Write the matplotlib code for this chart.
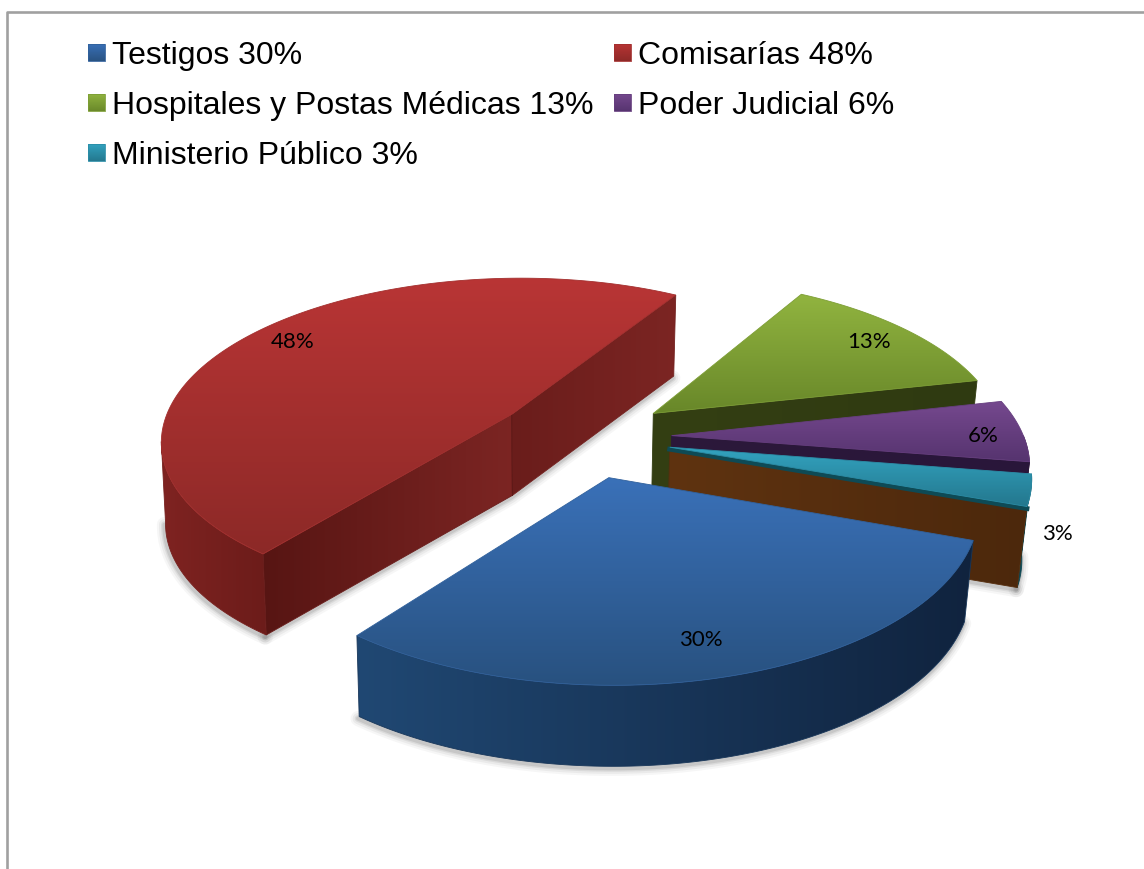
import numpy as np
import matplotlib
matplotlib.use('Agg')
import matplotlib.pyplot as plt
from matplotlib.colors import LinearSegmentedColormap, to_rgb
from matplotlib.patches import Polygon

categorias = ['Testigos', 'Comisarías', 'Hospitales y Postas Médicas', 'Poder Judicial', 'Ministerio Público']
valores = [30, 48, 13, 6, 3]

# top face (upper, lower), outer rim (left, right), cut face (left, right)
caras = [('#3A71B9', '#28517F'), ('#B93535', '#8C2927'), ('#92B540', '#688729'),
         ('#76498F', '#55336E'), ('#33A4C1', '#23768C')]
bordes = [('#204873', '#10233E'), ('#7F2321', '#6C1C1A'), ('#3A4615', '#2E3A10'),
          ('#2D1A3A', '#2A1736'), ('#0F4C58', '#0C424D')]
cortes = [None, ('#571513', '#7C2523'), ('#343F13', '#2F3A11'),
          ('#2C193A', '#29163A'), ('#5F3310', '#4C280C')]
pos_etiquetas = [(701, 640.5), (293, 342.5), (869, 342.5), (983, 436.5), (1057, 533.5)]

# perspective of the pie, in picture pixels
cx, cy, fx, fy, k = 583.3, 436.9, 352.2, 162.9, 0.15
giro, explosion, alto = 19.83, 0.251, 81


def proy(X, Y):
    w = 1 - k * Y
    return cx + fx * X / w, cy + fy * Y / w


def abajo(x, y):
    encoge = np.where(np.asarray(x) < cx, 0.99, 0.978)
    return cx + (x - cx) * encoge, y + alto


def sombreado(ax, xy, colores, vertical=True):
    xy = np.asarray(xy)
    cmap = LinearSegmentedColormap.from_list('g', colores)
    grad = np.linspace(0, 1, 256)
    grad = grad[:, None] if vertical else grad[None, :]
    x0, y0 = xy.min(axis=0)
    x1, y1 = xy.max(axis=0)
    im = ax.imshow(grad, cmap=cmap, extent=(x0 - 1, x1 + 1, y1 + 1, y0 - 1), aspect='auto',
                   interpolation='bilinear', zorder=3)
    pol = Polygon(xy, closed=True, transform=ax.transData, fc='none', ec='none')
    ax.add_patch(pol)
    im.set_clip_path(pol)
    # soften the hard clip edge
    medio = np.mean([to_rgb(c) for c in colores], axis=0)
    ax.add_patch(Polygon(xy, closed=True, fc='none', ec=medio, lw=0.6, zorder=3))


def sombra(ax, x, y):
    for lw, alpha in [(11, 0.05), (8, 0.07), (5, 0.10), (3, 0.14)]:
        ax.plot(x - 1, y + 2, color='#555555', lw=lw, alpha=alpha, zorder=2, solid_capstyle='round')


fig = plt.figure(figsize=(11.44, 8.69), dpi=100)
ax = fig.add_axes([0, 0, 1, 1])
ax.set_xlim(0, 1144)
ax.set_ylim(869, 0)
ax.set_autoscale_on(False)
ax.axis('off')

# frame
ax.plot([6.5, 6.5, 1144], [869, 11.5, 11.5], color='#A0A0A0', lw=1.9, zorder=1)

# back to front
acum = np.cumsum([0] + valores)
for i in [1, 2, 3, 4, 0]:
    a0 = giro + 3.6 * acum[i]
    a1 = giro + 3.6 * acum[i + 1]
    m = np.radians((a0 + a1) / 2)
    ox, oy = explosion * np.cos(m), explosion * np.sin(m)
    t = np.radians(np.linspace(a0, a1, 160))
    ax_x, ax_y = proy(ox + np.cos(t), oy + np.sin(t))
    ap_x, ap_y = proy(ox, oy)
    bx, by = abajo(ax_x, ax_y)
    bap_x, bap_y = abajo(ap_x, ap_y)

    # only the part of the rim that faces the viewer
    vis = np.sin(t) > 0
    if i == 1:
        vis = np.arange(len(t)) <= np.argmin(ax_x)

    # soft shadow under the visible lower edges
    if i in (0, 1, 4):
        sombra(ax, bx[vis], by[vis])
    if i == 1:
        sombra(ax, np.array([bx[0], bap_x, bx[-1]]), np.array([by[0], bap_y, by[-1]]))
    if i == 4:
        sombra(ax, np.array([bx[-1], bap_x]), np.array([by[-1], bap_y]))

    # rim
    if vis.sum() > 1:
        rim = np.r_[np.c_[ax_x[vis], ax_y[vis]], np.c_[bx[vis], by[vis]][::-1]]
        sombreado(ax, rim, bordes[i], vertical=False)

    # cut faces that look at the viewer
    if np.sin(np.radians(a0 - 90)) > 0:
        cara = [(ap_x, ap_y), (ax_x[0], ax_y[0]), (bx[0], by[0]), (bap_x, bap_y)]
        sombreado(ax, cara, cortes[i], vertical=False)
    if np.sin(np.radians(a1 + 90)) > 0:
        cara = [(ap_x, ap_y), (ax_x[-1], ax_y[-1]), (bx[-1], by[-1]), (bap_x, bap_y)]
        color = cortes[i] if i != 1 else ('#6A1D1B', '#7C2523')
        sombreado(ax, cara, color, vertical=False)
    if i == 1:
        # seam between the two cut faces
        ax.plot([ap_x, bap_x], [ap_y, bap_y], color='#5E1917', lw=0.8, zorder=3)
    if i == 4:
        # thin dark teal strip along the top of the brown face
        ax.plot([ap_x, ax_x[-1]], [ap_y + 2, ax_y[-1] + 2], color='#0E4A55', lw=3.5, zorder=3)

    # top face
    sombreado(ax, np.r_[[[ap_x, ap_y]], np.c_[ax_x, ax_y]], caras[i])

# percent labels
for valor, (x, y) in zip(valores, pos_etiquetas):
    ax.text(x, y, f'{valor}%', family='Lato', fontsize=16, color='black',
            ha='center', va='center', zorder=5)

# legend, two columns filled row by row
for i, (cat, valor) in enumerate(zip(categorias, valores)):
    col, fila = i % 2, i // 2
    x = 88 + col * 526
    y = 44 + fila * 50
    sombreado(ax, [(x, y), (x + 17, y), (x + 17, y + 17), (x, y + 17)], caras[i])
    ax.text(x + 24, y + 20, f'{cat} {valor}%', family='Liberation Sans', fontsize=23,
            color='black', ha='left', va='baseline', zorder=5)

fig.savefig('out.png', dpi=100)
